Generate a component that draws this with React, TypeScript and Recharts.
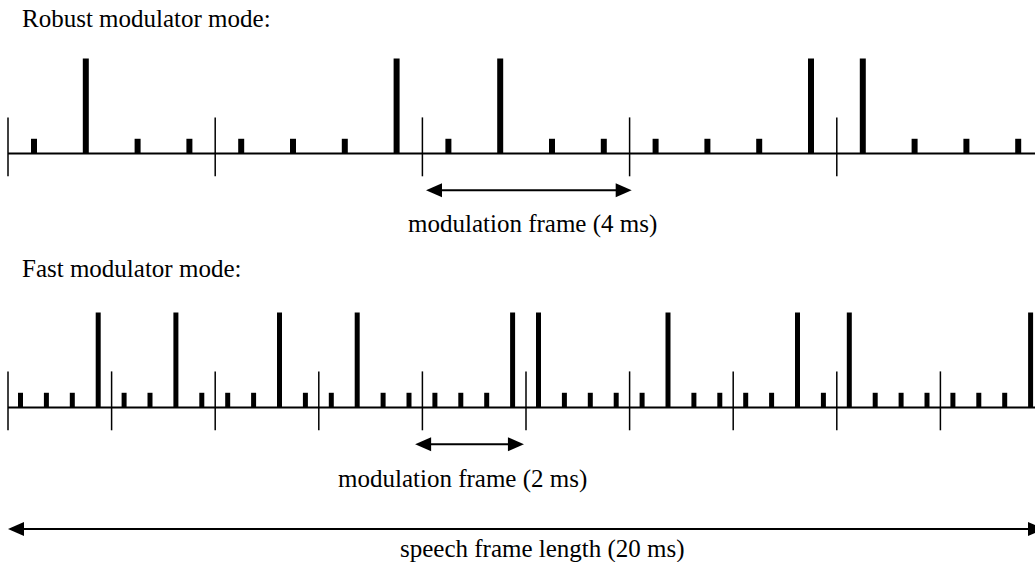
/**
 * Pulse timing diagram: robust vs fast modulator mode over one 20 ms speech frame.
 * Drawn with Recharts, one chart per row, hidden axes in ms / relative amplitude.
 */

import { ComposedChart, Bar, XAxis, YAxis, ReferenceLine } from 'recharts'

// time positions (ms) and relative pulse amplitudes
const robustTimes = [
  0.5, 1.5, 2.5, 3.5, 4.5, 5.5, 6.5, 7.5, 8.5, 9.5,
  10.5, 11.5, 12.5, 13.5, 14.5, 15.5, 16.5, 17.5, 18.5, 19.5,
]
const robustAmps = [
  0.155, 1, 0.155, 0.155, 0.155, 0.155, 0.155, 1, 0.155, 1,
  0.155, 0.155, 0.155, 0.155, 0.155, 1, 1, 0.155, 0.155, 0.155,
]
const robustFrames = [0, 4, 8, 12, 16]

const fastTimes = [
  0.25, 0.75, 1.25, 1.75, 2.25, 2.75, 3.25, 3.75, 4.25, 4.75,
  5.25, 5.75, 6.25, 6.75, 7.25, 7.75, 8.25, 8.75, 9.25, 9.75,
  10.25, 10.75, 11.25, 11.75, 12.25, 12.75, 13.25, 13.75, 14.25, 14.75,
  15.25, 15.75, 16.25, 16.75, 17.25, 17.75, 18.25, 18.75, 19.25, 19.75,
]
const fastAmps = [
  0.155, 0.155, 0.155, 1, 0.155, 0.155, 1, 0.155, 0.155, 0.155,
  1, 0.155, 0.155, 1, 0.155, 0.155, 0.155, 0.155, 0.155, 1,
  1, 0.155, 0.155, 0.155, 0.155, 1, 0.155, 0.155, 0.155, 0.155,
  1, 0.155, 1, 0.155, 0.155, 0.155, 0.155, 0.155, 0.155, 1,
]
const fastFrames = [0, 2, 4, 6, 8, 10, 12, 14, 16, 18]

// arrows: start ms, end ms, level (relative amplitude below the axis)
const robustSpans = [{ from: 8.07, to: 12.04, y: -0.387 }]
const fastSpans = [
  { from: 7.86, to: 9.96, y: -0.387 },
  { from: 0, to: 20, y: -1.279 },
]

const robustTitle = 'Robust modulator mode:'
const fastTitle = 'Fast modulator mode:'
const robustFrameLabel = 'modulation frame (4 ms)'
const fastFrameLabel = 'modulation frame (2 ms)'
const speechLabel = 'speech frame length (20 ms)'

const PX = 95 // pixels per unit of amplitude
const MARK_HIGH = 0.38
const MARK_LOW = -0.24
const HEAD_LEN = 16
const HEAD_HALF = 7
const FONT = '"Liberation Serif", "Times New Roman", serif'

const DoubleArrow = (props: any) => {
  const { x1, y1, x2 } = props
  const y = y1
  return (
    <g>
      <line x1={x1 + HEAD_LEN - 2} y1={y} x2={x2 - HEAD_LEN + 2} y2={y} stroke="#000" strokeWidth={2.2} />
      <polygon points={`${x1},${y} ${x1 + HEAD_LEN},${y - HEAD_HALF} ${x1 + HEAD_LEN},${y + HEAD_HALF}`} fill="#000" />
      <polygon points={`${x2},${y} ${x2 - HEAD_LEN},${y - HEAD_HALF} ${x2 - HEAD_LEN},${y + HEAD_HALF}`} fill="#000" />
    </g>
  )
}

interface PulseRowProps {
  times: number[]
  amps: number[]
  frames: number[]
  spans: { from: number; to: number; y: number }[]
  baseline: number
  yMin: number
  yMax: number
  barSize: number
}

function PulseRow({ times, amps, frames, spans, baseline, yMin, yMax, barSize }: PulseRowProps) {
  const data = times.map((t, i) => ({ t, amp: amps[i] }))
  const height = (yMax - yMin) * PX
  return (
    <div style={{ position: 'absolute', left: 0, top: baseline - yMax * PX }}>
      <ComposedChart width={1060} height={height} data={data} margin={{ top: 0, right: 16, bottom: 0, left: 8 }}>
        <XAxis hide type="number" dataKey="t" domain={[0, 20]} allowDataOverflow />
        <YAxis hide type="number" domain={[yMin, yMax]} allowDataOverflow />
        <ReferenceLine y={0} stroke="#000" strokeWidth={2} />
        {frames.map(f => (
          <ReferenceLine
            key={`f${f}`}
            segment={[{ x: f, y: MARK_LOW }, { x: f, y: MARK_HIGH }]}
            stroke="#000"
            strokeWidth={1.5}
          />
        ))}
        <Bar dataKey="amp" fill="#000" barSize={barSize} isAnimationActive={false} />
        {spans.map(s => (
          <ReferenceLine
            key={`s${s.from}-${s.to}`}
            segment={[{ x: s.from, y: s.y }, { x: s.to, y: s.y }]}
            shape={DoubleArrow}
          />
        ))}
      </ComposedChart>
    </div>
  )
}

export default function App() {
  return (
    <div
      style={{
        position: 'absolute',
        left: 0,
        top: 0,
        width: 1035,
        height: 562,
        overflow: 'hidden',
        background: '#fff',
      }}
    >
      <PulseRow
        times={robustTimes}
        amps={robustAmps}
        frames={robustFrames}
        spans={robustSpans}
        baseline={153}
        yMin={-0.5}
        yMax={1.1}
        barSize={6}
      />
      <PulseRow
        times={fastTimes}
        amps={fastAmps}
        frames={fastFrames}
        spans={fastSpans}
        baseline={407}
        yMin={-1.4}
        yMax={1.1}
        barSize={5}
      />
      <svg
        width={1035}
        height={562}
        style={{ position: 'absolute', left: 0, top: 0, pointerEvents: 'none' }}
        fontFamily={FONT}
        fontSize={25}
        fill="#000"
      >
        <text x={22} y={27}>{robustTitle}</text>
        <text x={408} y={232}>{robustFrameLabel}</text>
        <text x={22} y={277}>{fastTitle}</text>
        <text x={338} y={487}>{fastFrameLabel}</text>
        <text x={400} y={557}>{speechLabel}</text>
      </svg>
    </div>
  )
}
